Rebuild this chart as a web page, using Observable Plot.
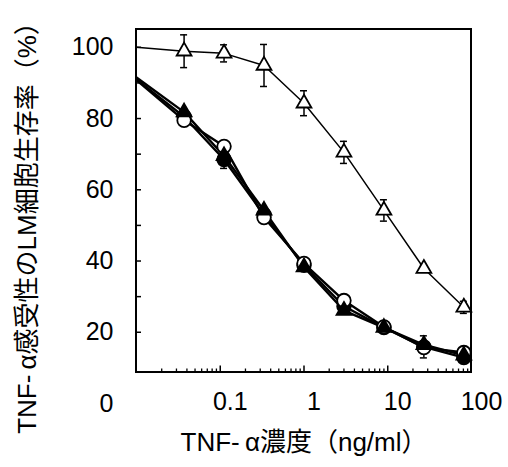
<!DOCTYPE html>
<html><head><meta charset="utf-8">
<script src="https://cdn.jsdelivr.net/npm/d3@7"></script>
<script src="https://cdn.jsdelivr.net/npm/@observablehq/plot@0.6"></script>
<style>body{margin:0;background:#fff}</style>
</head><body><div id="chart"></div>
<script>
// TNF-α concentration (ng/ml); first value is the control drawn at the axis edge
const conc = [0.01, 0.037, 0.111, 0.333, 1, 3, 9, 27, 81];
const openTri     = [100, 98.9, 98.3, 94.9, 84.3, 70.5, 54.2, 37.9, 27.0];
const openTriErr  = [null, 4.6, 2.4, 5.9, 3.5, 3.1, 3.0, 1.0, 1.7];
const filledTri   = [91.5, 81.8, 69.5, 54.2, 38.3, 26.1, 21.3, 16.5, 13.5];
const filledCirc  = [91.0, 80.5, 68.5, 53.0, 38.8, 27.3, 21.3, 15.9, 12.9];
const filledCircErr = [null, null, 2.5, null, null, null, null, 3.1, null];
const openCirc    = [90.8, 79.5, 72.2, 52.2, 39.3, 28.9, 21.5, 15.7, 14.3];

const xLabelValues = [0.1, 1, 10, 100];
const xLabels = ["0.1", "1", "10", "100"];
const yLabelValues = [0, 20, 40, 60, 80, 100];
const yInnerTicks = [20, 30, 40, 50, 60, 70, 80, 90, 100];
const xTitle = "TNF-\u2009α濃度（ng/ml）";
const yTitle = "TNF-\u2009α感受性のLM細胞生存率（%）";

const xDomain = [0.01, 100];
const yDomain = [0, 105];
const frameBottom = 8.7;

const series = [
  {values: filledCirc, err: filledCircErr, symbol: "circle", fill: "black", r: 6.8, lw: 2.4},
  {values: openCirc, err: null, symbol: "circle", fill: "white", r: 6.8, lw: 2.4},
  {values: filledTri, err: null, symbol: "triangle", fill: "black", r: 5.5, lw: 2.4},
  {values: openTri, err: openTriErr, symbol: "triangle", fill: "white", r: 5.5, lw: 1.5}
];

const pxPerDecade = (508 - 136 - 37) / 4;
const logFactor = px => Math.pow(10, px / pxPerDecade);
const pxPerUnit = (467 - 64 - 29) / 105;

const minorTicks = [];
for (const d of [0.01, 0.1, 1, 10]) for (let k = 2; k <= 9; k++) minorTicks.push(d * k);
const majorTicks = [0.1, 1, 10];

const marks = [];
marks.push(Plot.rect([0], {x1: xDomain[0], x2: xDomain[1], y1: frameBottom, y2: yDomain[1], fill: "none", stroke: "black", strokeWidth: 2}));
marks.push(Plot.ruleX(minorTicks, {x: d => d, y1: frameBottom, y2: frameBottom + 3.5 / pxPerUnit, stroke: "black", strokeWidth: 1.3}));
marks.push(Plot.ruleX(majorTicks, {x: d => d, y1: frameBottom, y2: frameBottom + 6.5 / pxPerUnit, stroke: "black", strokeWidth: 1.5}));
marks.push(Plot.ruleY(yInnerTicks, {y: d => d, x1: xDomain[0], x2: xDomain[0] * logFactor(5), stroke: "black", strokeWidth: 1.5}));

for (const s of series) {
  const pts = conc.map((c, i) => ({x: c, y: s.values[i]}));
  marks.push(Plot.line(pts, {x: "x", y: "y", stroke: "black", strokeWidth: s.lw}));
}
for (const s of series) {
  if (!s.err) continue;
  const eb = conc.map((c, i) => ({x: c, y: s.values[i], e: s.err[i]})).filter(d => d.e != null);
  marks.push(Plot.ruleX(eb, {x: "x", y1: d => d.y - d.e, y2: d => d.y + d.e, stroke: "black", strokeWidth: 1.5}));
  marks.push(Plot.ruleY(eb, {y: d => d.y + d.e, x1: d => d.x / logFactor(3.5), x2: d => d.x * logFactor(3.5), stroke: "black", strokeWidth: 1.5}));
  marks.push(Plot.ruleY(eb, {y: d => d.y - d.e, x1: d => d.x / logFactor(3.5), x2: d => d.x * logFactor(3.5), stroke: "black", strokeWidth: 1.5}));
}
for (const s of series) {
  const pts = conc.map((c, i) => ({x: c, y: s.values[i]})).slice(1);
  marks.push(Plot.dot(pts, {x: "x", y: "y", symbol: s.symbol, r: s.r, fill: s.fill, stroke: "black", strokeWidth: 1.8}));
}
marks.push(Plot.axisY({ticks: yLabelValues, tickSize: 0, tickPadding: 23, fontSize: 25, label: null}));
marks.push(Plot.text(xLabelValues, {x: d => d, y: d => 0, text: (d, i) => xLabels[i], fontSize: 25, dx: 10, dy: -2}));
marks.push(Plot.text([yTitle], {frameAnchor: "left", textAnchor: "middle", dx: -109, dy: 5, rotate: -90, fontSize: 26, text: d => d}));
marks.push(Plot.text([xTitle], {frameAnchor: "bottom", textAnchor: "middle", dy: 47, fontSize: 26, text: d => d}));

const chart = Plot.plot({
  width: 508, height: 467,
  marginLeft: 136, marginRight: 37, marginTop: 29, marginBottom: 64,
  x: {type: "log", domain: xDomain, axis: null},
  y: {domain: yDomain, axis: null},
  style: {fontFamily: "'Liberation Sans', 'Noto Sans CJK JP', sans-serif", background: "white", color: "black", overflow: "visible"},
  marks
});
document.getElementById("chart").appendChild(chart);
</script>
</body></html>
